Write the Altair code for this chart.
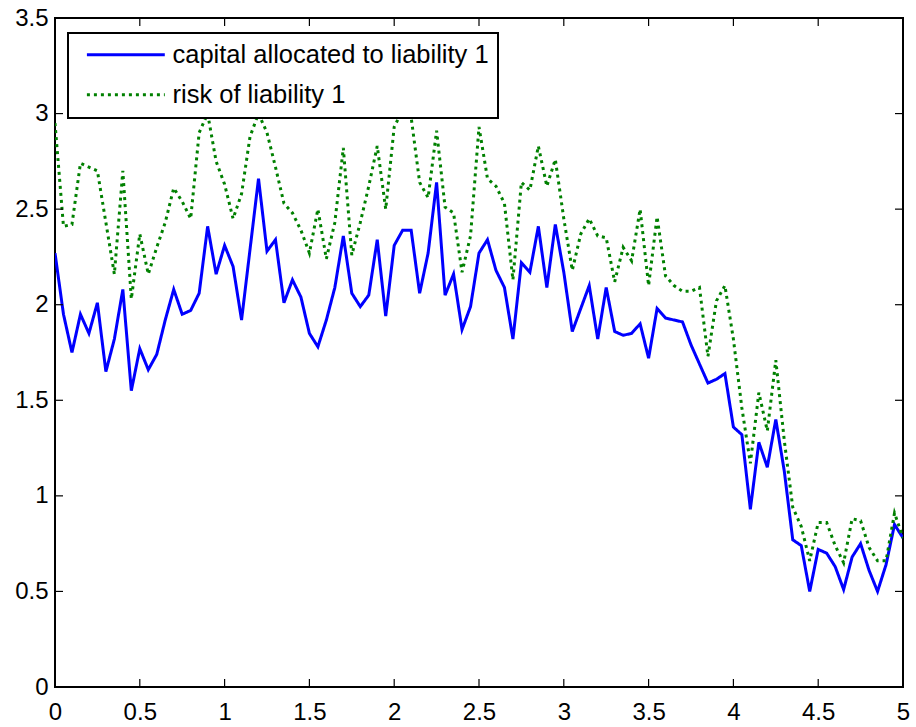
import altair as alt
import pandas as pd

# ---- data ----
x_vals = [round(i * 0.05, 2) for i in range(101)]

capital = [2.27, 1.95, 1.75, 1.95, 1.85, 2.01, 1.65, 1.82, 2.08, 1.55,
           1.77, 1.66, 1.74, 1.92, 2.08, 1.95, 1.97, 2.06, 2.41, 2.16,
           2.31, 2.20, 1.92, 2.29, 2.66, 2.28, 2.34, 2.01, 2.13, 2.04,
           1.85, 1.78, 1.92, 2.09, 2.36, 2.06, 1.99, 2.05, 2.34, 1.94,
           2.31, 2.39, 2.39, 2.06, 2.27, 2.64, 2.05, 2.16, 1.87, 1.99,
           2.27, 2.34, 2.18, 2.09, 1.82, 2.22, 2.17, 2.41, 2.09, 2.42,
           2.17, 1.86, 1.98, 2.10, 1.82, 2.09, 1.86, 1.84, 1.85, 1.90,
           1.72, 1.98, 1.93, 1.92, 1.91, 1.79, 1.69, 1.59, 1.61, 1.64,
           1.36, 1.32, 0.93, 1.28, 1.15, 1.40, 1.13, 0.77, 0.74, 0.50,
           0.72, 0.70, 0.63, 0.51, 0.68, 0.75, 0.61, 0.50, 0.64, 0.85, 0.78]

risk = [2.95, 2.41, 2.42, 2.74, 2.72, 2.70, 2.43, 2.16, 2.70, 2.03,
        2.37, 2.16, 2.30, 2.43, 2.61, 2.54, 2.45, 2.90, 3.00, 2.75,
        2.63, 2.45, 2.58, 2.88, 3.00, 2.90, 2.72, 2.53, 2.48, 2.39,
        2.27, 2.50, 2.24, 2.43, 2.82, 2.26, 2.43, 2.62, 2.83, 2.50,
        2.93, 3.02, 2.98, 2.64, 2.56, 2.91, 2.51, 2.48, 2.17, 2.36,
        2.93, 2.66, 2.62, 2.53, 2.13, 2.64, 2.60, 2.83, 2.62, 2.76,
        2.45, 2.18, 2.37, 2.45, 2.36, 2.35, 2.12, 2.30, 2.23, 2.50,
        2.10, 2.46, 2.15, 2.10, 2.07, 2.07, 2.09, 1.73, 2.02, 2.10,
        1.82, 1.46, 1.17, 1.54, 1.34, 1.71, 1.29, 0.94, 0.84, 0.66,
        0.86, 0.86, 0.74, 0.65, 0.88, 0.87, 0.73, 0.66, 0.66, 0.91, 0.78]

series_names = ["capital allocated to liability 1", "risk of liability 1"]
x_ticks = [0, 0.5, 1, 1.5, 2, 2.5, 3, 3.5, 4, 4.5, 5]
y_ticks = [0, 0.5, 1, 1.5, 2, 2.5, 3, 3.5]

n = len(x_vals)
df = pd.DataFrame({
    "x": x_vals + x_vals,
    "v": capital + risk,
    "series": [series_names[0]] * n + [series_names[1]] * n,
})
xt = pd.DataFrame({"t": x_ticks})
yt = pd.DataFrame({"t": y_ticks})

FONT = "Liberation Sans"
W, H = 848, 669
TICK = 8


def make_axis(orient, values, pad):
    return alt.Axis(orient=orient, values=values, title=None,
                    grid=False, domain=False, ticks=False,
                    labelFont=FONT, labelFontSize=24, labelColor="black",
                    labelPadding=pad, format="~g", labelFlush=False,
                    labelOverlap=False)


xscale = alt.Scale(domain=[0, 5], nice=False, zero=False)
yscale = alt.Scale(domain=[0, 3.5], nice=False, zero=False)

legend = alt.Legend(title=None, orient="none", legendX=13, legendY=15,
                    direction="vertical", strokeColor="black",
                    fillColor="white", padding=9, labelFont=FONT,
                    labelFontSize=25.5, labelColor="black", labelLimit=0,
                    symbolType="M-0.3,0H7.9", symbolSize=361,
                    symbolStrokeWidth=3, labelOffset=70, rowPadding=13)

lines = alt.Chart(df).mark_line(strokeWidth=3, clip=True, strokeCap="butt").encode(
    x=alt.X("x:Q", scale=xscale, axis=make_axis("bottom", x_ticks, 13)),
    y=alt.Y("v:Q", scale=yscale, axis=make_axis("left", y_ticks, 7)),
    color=alt.Color("series:N",
                    scale=alt.Scale(domain=series_names, range=["#0000ff", "#008000"]),
                    legend=legend),
    strokeDash=alt.StrokeDash("series:N",
                              scale=alt.Scale(domain=series_names, range=[[1, 0], [3, 4]]),
                              legend=legend),
)

tick_style = dict(color="black", strokeWidth=1.2)
bottom_ticks = alt.Chart(xt).mark_rule(**tick_style).encode(
    x=alt.X("t:Q", scale=xscale), y=alt.value(H), y2=alt.value(H - TICK))
top_ticks = alt.Chart(xt).mark_rule(**tick_style).encode(
    x=alt.X("t:Q", scale=xscale), y=alt.value(0), y2=alt.value(TICK))
left_ticks = alt.Chart(yt).mark_rule(**tick_style).encode(
    y=alt.Y("t:Q", scale=yscale), x=alt.value(0), x2=alt.value(TICK))
right_ticks = alt.Chart(yt).mark_rule(**tick_style).encode(
    y=alt.Y("t:Q", scale=yscale), x=alt.value(W), x2=alt.value(W - TICK))

chart = alt.layer(lines, bottom_ticks, top_ticks, left_ticks, right_ticks).properties(
    width=W, height=H, autosize="none",
    padding={"left": 55, "top": 18, "right": 13, "bottom": 40},
    background="white",
).configure_view(stroke="black", strokeWidth=2).configure_legend(strokeWidth=2)

chart.save("out.html", embed_options={"renderer": "svg", "actions": False})
